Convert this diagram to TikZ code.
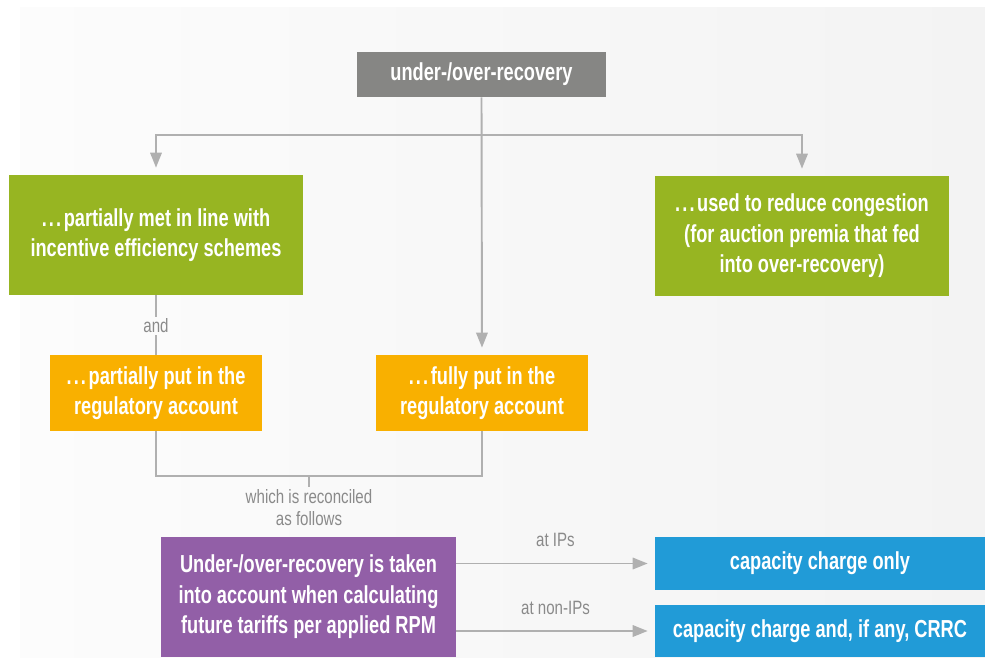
\documentclass[tikz,border=0pt]{standalone}
\usepackage{fontspec}
\usepackage{tikz}
\usetikzlibrary{arrows.meta,positioning}
\newfontfamily\condfont{Liberation Sans}[FakeStretch=0.74]
\newfontfamily\notefont{Liberation Sans}[FakeStretch=0.78]
\newcommand{\lead}{.\kern1.2pt.\kern1.2pt.\kern1.5pt}
\definecolor{BoxGray}{HTML}{868684}
\definecolor{BoxGreen}{HTML}{97B522}
\definecolor{BoxOrange}{HTML}{F9B000}
\definecolor{BoxPurple}{HTML}{925FA7}
\definecolor{BoxBlue}{HTML}{219BD7}
\definecolor{LineGray}{HTML}{B0B0B0}
\definecolor{NoteGray}{HTML}{8A8A8A}
\definecolor{BgLeft}{HTML}{FCFCFC}
\definecolor{BgRight}{HTML}{F3F3F3}

\begin{document}
\begin{tikzpicture}[x=0.02cm, y=-0.02cm,
    box/.style={inner sep=0pt, align=center, text=white,
      font=\condfont\bfseries\fontsize{14}{17.3}\selectfont},
    note/.style={inner sep=1pt, align=center, text=NoteGray,
      font=\notefont\fontsize{11}{12.5}\selectfont},
    link/.style={draw=LineGray, line width=1.1pt},
    arr/.style={link, -{Triangle[length=8.5pt, width=6.5pt]}, shorten >=4pt}]

    % Background
    \useasboundingbox (0,0) rectangle (985,657);
    \fill[white] (0,0) rectangle (985,657);
    \shade[left color=BgLeft, right color=BgRight] (20,7) rectangle (985,657);

    % Boxes
    \node[box, fill=BoxGray, minimum width=4.98cm, minimum height=0.9cm] (recovery) at (481.5,74.5) {under-/over-recovery};
    \node[box, fill=BoxGreen, minimum width=5.88cm, minimum height=2.4cm] (partmet) at (156,235)
      {\lead partially met in line with\\incentive efficiency schemes};
    \node[box, fill=BoxGreen, minimum width=5.88cm, minimum height=2.4cm] (congestion) at (802,236)
      {\lead used to reduce congestion\\(for auction premia that fed\\into over-recovery)};
    \node[box, fill=BoxOrange, minimum width=4.24cm, minimum height=1.52cm] (partput) at (156,393)
      {\lead partially put in the\\regulatory account};
    \node[box, fill=BoxOrange, minimum width=4.24cm, minimum height=1.52cm] (fullput) at (482,393)
      {\lead fully put in the\\regulatory account};
    \node[box, fill=BoxPurple, minimum width=5.9cm, minimum height=2.4cm] (tariffs) at (308.5,597)
      {Under-/over-recovery is taken\\into account when calculating\\future tariffs per applied RPM};
    \node[box, fill=BoxBlue, minimum width=6.6cm, minimum height=1.06cm] (capip) at (820,563.5) {capacity charge only};
    \node[box, fill=BoxBlue, minimum width=6.6cm, minimum height=1.04cm] (capnonip) at (820,631)
      {capacity charge and, if any, CRRC};

    % Split from the top box
    \coordinate (split) at (482,135);
    \draw[arr] (recovery.south) -- (fullput.north);
    \draw[arr] (split) -| (partmet.north);
    \draw[arr] (split) -| (congestion.north);

    % "and" link
    \node[note] (andlabel) at (156,326) {and};
    \draw[link] (partmet.south) -- (andlabel.north);
    \draw[link] (andlabel.south) -- (partput.north);

    % Join of the two accounts
    \coordinate (join) at (309,476);
    \draw[link] (partput.south) |- (join) -| (fullput.south);
    \node[note, anchor=north] (reconciled) at (309,487) {which is reconciled\\as follows};
    \draw[link] (join) -- (reconciled.north);

    % Outputs
    \draw[arr] (tariffs.east |- capip.west) -- (capip.west) node[note, midway, above=8pt] {at IPs};
    \draw[arr] (tariffs.east |- capnonip.west) -- (capnonip.west) node[note, midway, above=8pt] {at non-IPs};
\end{tikzpicture}
\end{document}
